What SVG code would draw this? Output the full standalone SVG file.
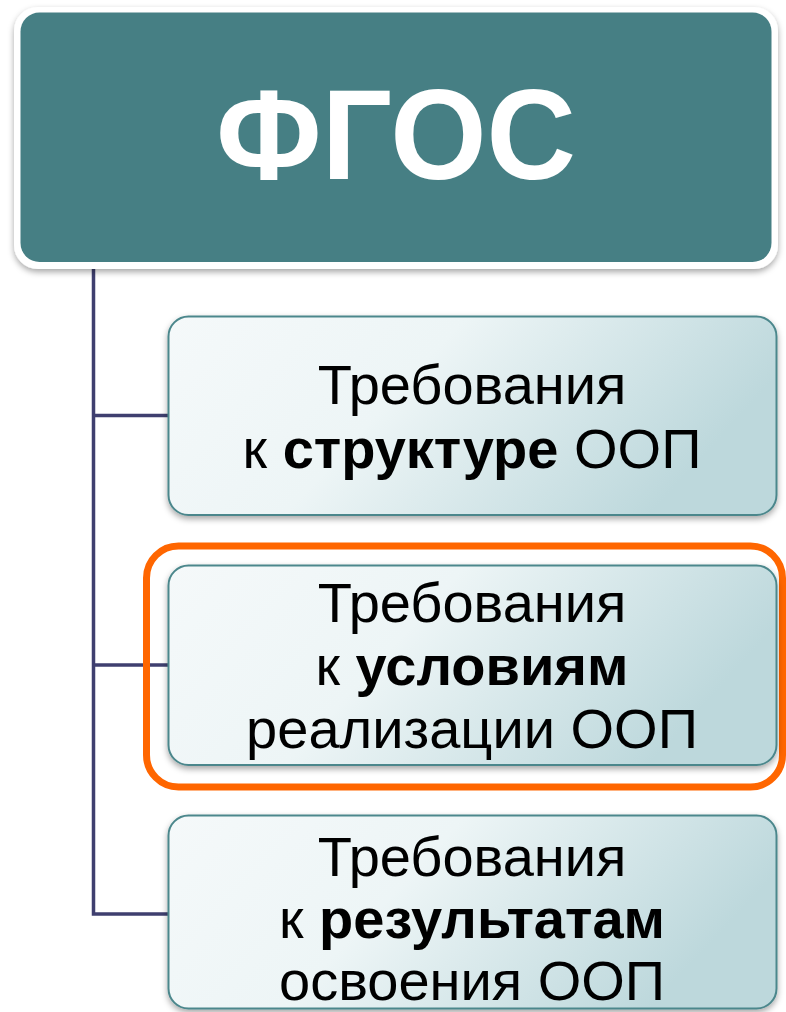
<svg xmlns="http://www.w3.org/2000/svg" width="786" height="1012" viewBox="0 0 786 1012">
<defs>
<linearGradient id="boxgrad" x1="0" y1="0" x2="1" y2="0.3">
<stop offset="0" stop-color="#f5f9fa"/>
<stop offset="0.45" stop-color="#edf5f6"/>
<stop offset="1" stop-color="#bdd8dc"/>
</linearGradient>
<filter id="shadow" x="-5%" y="-5%" width="110%" height="115%">
<feDropShadow dx="0" dy="3" stdDeviation="3" flood-color="#000" flood-opacity="0.35"/>
</filter>
</defs>
<style>
.conn{stroke:#3f3f6f;stroke-width:3.5;fill:none}
.box{fill:url(#boxgrad);stroke:#4c878c;stroke-width:2}
.t{font-family:"Liberation Sans",Arial,sans-serif;font-size:56px;fill:#000;text-anchor:middle}
.b{font-weight:bold}
</style>
<g id="connectors">
<path class="conn" d="M93.5 265 V914 H168"/>
<path class="conn" d="M93.5 415.5 H168"/>
<path class="conn" d="M93.5 665 H168"/>
</g>
<g id="fgos">
<rect x="14" y="7" width="764" height="262" rx="24" fill="#fff" filter="url(#shadow)"/>
<rect x="20.5" y="12.5" width="751" height="249.5" rx="19" fill="#467f84"/>
<text x="396" y="179" font-family="Liberation Sans,Arial,sans-serif" font-weight="bold" font-size="128" fill="#fff" text-anchor="middle" textLength="360" lengthAdjust="spacingAndGlyphs">ФГОС</text>
</g>
<g id="structure">
<rect class="box" x="168.5" y="316.5" width="608" height="198.5" rx="20" filter="url(#shadow)"/>
<text class="t" x="472" y="404">Требования</text>
<text class="t" x="472" y="468">к <tspan class="b">структуре</tspan> ООП</text>
</g>
<g id="conditions">
<rect x="146.5" y="546" width="636" height="241" rx="32" fill="none" stroke="#ff6600" stroke-width="7"/>
<rect class="box" x="168.5" y="565.5" width="608" height="199.5" rx="20" filter="url(#shadow)"/>
<text class="t" x="472" y="622">Требования</text>
<text class="t" x="472" y="685">к <tspan class="b">условиям</tspan></text>
<text class="t" x="472" y="748">реализации ООП</text>
</g>
<g id="results">
<rect class="box" x="168.5" y="815.5" width="608" height="193" rx="20" filter="url(#shadow)"/>
<text class="t" x="472" y="876">Требования</text>
<text class="t" x="472" y="938">к <tspan class="b">результатам</tspan></text>
<text class="t" x="472" y="1000">освоения ООП</text>
</g>
</svg>
